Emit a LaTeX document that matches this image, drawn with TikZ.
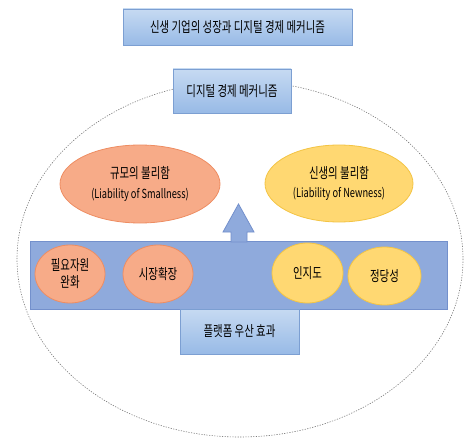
\documentclass[tikz,border=0pt]{standalone}
\usepackage{fontspec}
\newfontfamily\kr[FakeStretch=0.72]{Noto Sans CJK KR}
\newfontfamily\krl[FakeStretch=0.74]{Noto Sans CJK KR}
\usetikzlibrary{shapes.geometric}
\definecolor{boxtop}{HTML}{C6DAF2}
\definecolor{boxbot}{HTML}{98BAE6}
\definecolor{boxline}{HTML}{7C9FD2}
\definecolor{bandfill}{HTML}{8FAADC}
\definecolor{bandline}{HTML}{7390CC}
\definecolor{orfill}{HTML}{F7AB88}
\definecolor{orline}{HTML}{EE8D62}
\definecolor{yefill}{HTML}{FFD872}
\definecolor{yeline}{HTML}{F3C444}
\definecolor{dashc}{HTML}{7A7A7A}
\newcommand{\latn}[1]{{\krl\fontsize{12.5}{18}\selectfont #1}}
\tikzset{
  bluebox/.style={rectangle, draw=boxline, line width=0.8pt, top color=boxtop, bottom color=boxbot, inner sep=0pt},
  bandbox/.style={rectangle, draw=bandline, line width=0.8pt, fill=bandfill, inner sep=0pt},
  orell/.style={ellipse, draw=orline, line width=0.8pt, fill=orfill, inner sep=0pt, align=center},
  yeell/.style={ellipse, draw=yeline, line width=0.8pt, fill=yefill, inner sep=0pt, align=center},
  outerell/.style={draw=dashc, line width=0.6pt, dash pattern=on 1.2pt off 1.4pt},
  uparrow/.style={fill=bandfill, draw=bandline, line width=0.8pt}
}
\begin{document}
\begin{tikzpicture}[x=1pt,y=-1pt,font=\kr\fontsize{14.5}{19.5}\selectfont]
\useasboundingbox (0,0) rectangle (465,438);
\fill[white] (0,0) rectangle (465,438);
% outer dashed ellipse
\draw[outerell] (240,259) ellipse [x radius=223, y radius=178];
% title
\node[bluebox, minimum width=229pt, minimum height=36pt] (title) at (237.5,27) {신생 기업의 성장과 디지털 경제 메커니즘};
% mechanism box
\node[bluebox, minimum width=118pt, minimum height=44pt] (mech) at (232,91) {디지털 경제 메커니즘};
% liabilities
\node[orell, minimum width=160pt, minimum height=78pt] (small) at (140,184) {규모의 불리함\\\latn{(Liability of Smallness)}};
\node[yeell, minimum width=148pt, minimum height=77pt] (new) at (339,183.5) {신생의 불리함\\\latn{(Liability of Newness)}};
% band
\node[bandbox, minimum width=417pt, minimum height=68pt] (band) at (238.5,275) {};
% up arrow
\path[uparrow] (231,242) -- (231,232) -- (223,232) -- (238.5,204) -- (254,232) -- (247,232) -- (247,242) -- cycle;
% small ellipses
\node[orell, minimum width=70pt, minimum height=58pt, font=\kr\fontsize{14.5}{17}\selectfont] (res) at (70,274) {필요자원\\완화};
\node[orell, minimum width=70pt, minimum height=58pt] (mkt) at (158,274) {시장확장};
\node[yeell, minimum width=71pt, minimum height=60pt] (rec) at (307.5,273) {인지도};
\node[yeell, minimum width=73pt, minimum height=58pt] (leg) at (384.5,276) {정당성};
% platform box
\node[bluebox, minimum width=119pt, minimum height=45pt] (plat) at (239.5,331.5) {플랫폼 우산 효과};
\end{tikzpicture}
\end{document}
